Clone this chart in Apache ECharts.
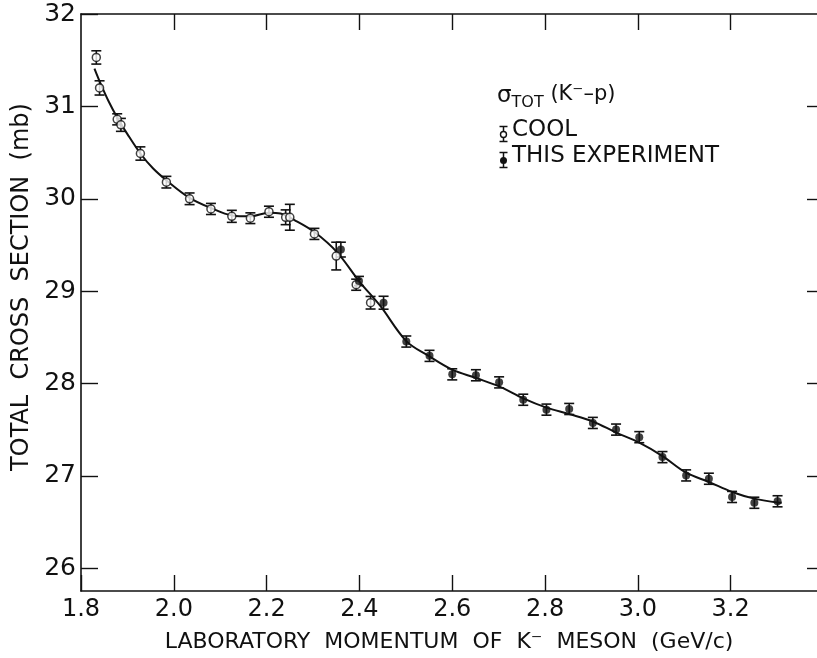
<!DOCTYPE html>
<html><head><meta charset="utf-8">
<script src="https://cdn.jsdelivr.net/npm/echarts@6/dist/echarts.min.js"></script>
<style>html,body{margin:0;padding:0;background:#fff}#c{width:817px;height:658px}</style>
</head><body><div id="c"></div>
<script>
// ---- data ----
const xTicks = [1.8, 2.0, 2.2, 2.4, 2.6, 2.8, 3.0, 3.2];
const yTicks = [26, 27, 28, 29, 30, 31, 32];
const coolX = [1.833, 1.840, 1.878, 1.886, 1.928, 1.984, 2.034, 2.080, 2.125, 2.165, 2.205, 2.241, 2.250, 2.303, 2.350, 2.393, 2.424];
const coolY = [31.53, 31.20, 30.86, 30.80, 30.49, 30.18, 30.00, 29.89, 29.81, 29.79, 29.86, 29.80, 29.80, 29.62, 29.38, 29.07, 28.875];
const coolErr = [0.072, 0.077, 0.06, 0.07, 0.072, 0.063, 0.063, 0.06, 0.065, 0.058, 0.06, 0.08, 0.14, 0.06, 0.15, 0.06, 0.068];
const expX = [2.360, 2.399, 2.452, 2.501, 2.551, 2.600, 2.651, 2.701, 2.753, 2.803, 2.852, 2.903, 2.953, 3.003, 3.053, 3.104, 3.153, 3.203, 3.251, 3.301];
const expY = [29.45, 29.11, 28.875, 28.455, 28.30, 28.10, 28.09, 28.013, 27.825, 27.718, 27.725, 27.574, 27.502, 27.42, 27.204, 27.006, 26.97, 26.773, 26.71, 26.726];
const expErr = [0.08, 0.05, 0.07, 0.06, 0.06, 0.06, 0.06, 0.06, 0.06, 0.06, 0.06, 0.06, 0.06, 0.06, 0.06, 0.06, 0.06, 0.06, 0.06, 0.06];
const fitX = [1.829, 1.842, 1.860, 1.878, 1.900, 1.928, 1.955, 1.984, 2.034, 2.080, 2.125, 2.165, 2.205, 2.230, 2.260, 2.303, 2.352, 2.399, 2.445, 2.501, 2.549, 2.600, 2.651, 2.701, 2.753, 2.803, 2.852, 2.903, 2.953, 3.003, 3.053, 3.104, 3.153, 3.203, 3.251, 3.301, 3.310];
const fitY = [31.41, 31.25, 31.05, 30.88, 30.70, 30.49, 30.33, 30.20, 30.01, 29.90, 29.82, 29.81, 29.85, 29.84, 29.77, 29.64, 29.42, 29.11, 28.84, 28.46, 28.30, 28.15, 28.06, 27.97, 27.84, 27.74, 27.67, 27.59, 27.47, 27.36, 27.215, 27.035, 26.935, 26.827, 26.755, 26.712, 26.71];
const xTitle = 'LABORATORY  MOMENTUM  OF  K\u207B  MESON  (GeV/c)';
const yTitle = 'TOTAL  CROSS  SECTION  (mb)';

const FONT = 'DejaVu Sans';
const INK = '#111';

function zip3(a, b, c) { return a.map((v, i) => [v, b[i], c[i]]); }
function zip2(a, b) { return a.map((v, i) => [v, b[i]]); }

function errRender(params, api) {
  const x = api.value(0), y = api.value(1), e = api.value(2);
  const t = api.coord([x, y + e]), b = api.coord([x, y - e]);
  const h = 5;
  const st = { stroke: INK, lineWidth: 1.6 };
  return { type: 'group', children: [
    { type: 'line', shape: { x1: t[0], y1: t[1], x2: b[0], y2: b[1] }, style: st },
    { type: 'line', shape: { x1: t[0] - h, y1: t[1], x2: t[0] + h, y2: t[1] }, style: st },
    { type: 'line', shape: { x1: b[0] - h, y1: b[1], x2: b[0] + h, y2: b[1] }, style: st }
  ]};
}

const chart = echarts.init(document.getElementById('c'), null, { renderer: 'canvas' });
const axisLine = { show: true, lineStyle: { color: INK, width: 1.6 } };
chart.setOption({
  animation: false,
  backgroundColor: '#fff',
  grid: { left: 81, top: 14, right: 0, bottom: 65 },
  xAxis: [
    { type: 'value', min: 1.8, max: 3.386, position: 'bottom',
      axisLine, splitLine: { show: false },
      axisTick: { show: true, inside: true, length: 16, customValues: xTicks, lineStyle: { color: INK, width: 1.4 } },
      axisLabel: { customValues: xTicks, formatter: v => v.toFixed(1), fontFamily: FONT, fontSize: 24, color: INK, margin: 7 },
      name: xTitle, nameLocation: 'middle', nameGap: 40,
      nameTextStyle: { fontFamily: FONT, fontSize: 22, color: INK }
    },
    { type: 'value', min: 1.8, max: 3.386, position: 'top',
      axisLine, splitLine: { show: false },
      axisTick: { show: true, inside: true, length: 16, customValues: xTicks.slice(1), lineStyle: { color: INK, width: 1.4 } },
      axisLabel: { show: false }
    }
  ],
  yAxis: [
    { type: 'value', min: 25.755, max: 32, position: 'left',
      axisLine, splitLine: { show: false },
      axisTick: { show: true, inside: true, length: 17, customValues: yTicks, lineStyle: { color: INK, width: 1.4 } },
      axisLabel: { customValues: yTicks, fontFamily: FONT, fontSize: 25, color: INK, margin: 5 }
    },
    { type: 'value', min: 25.755, max: 32, position: 'right',
      axisLine: { show: false }, splitLine: { show: false },
      axisTick: { show: true, inside: true, length: 10, customValues: yTicks.slice(0, 6), lineStyle: { color: INK, width: 1.4 } },
      axisLabel: { show: false }
    }
  ],
  series: [
    { type: 'line', data: zip2(fitX, fitY), smooth: 0.35, showSymbol: false, symbol: 'none',
      lineStyle: { color: INK, width: 2 }, z: 2 },
    { type: 'custom', data: zip3(coolX, coolY, coolErr), renderItem: errRender, z: 3 },
    { type: 'custom', data: zip3(expX, expY, expErr), renderItem: errRender, z: 3 },
    { type: 'scatter', data: zip2(coolX, coolY), symbol: 'circle', symbolSize: 8,
      itemStyle: { color: '#fff', borderColor: INK, borderWidth: 1.5 }, z: 5 },
    { type: 'scatter', data: zip2(expX, expY), symbol: 'circle', symbolSize: 8,
      itemStyle: { color: INK }, z: 5 }
  ],
  graphic: [
    { type: 'text', x: 22, y: 287, rotation: Math.PI / 2, style: {
        text: yTitle, fontFamily: FONT, fontSize: 24, fill: INK, align: 'center', verticalAlign: 'middle' } },
    { type: 'text', left: 497, top: 84, style: {
        text: '{s|\u03C3}{sub|TOT}  {t|(K\u207B\u2013p)}',
        rich: {
          s: { fontFamily: FONT, fontSize: 23, fill: INK },
          sub: { fontFamily: FONT, fontSize: 16, fill: INK, padding: [12, 0, 0, 0] },
          t: { fontFamily: FONT, fontSize: 21, fill: INK, padding: [0, 0, 4, 0] }
        } } },
    { type: 'group', left: 497, top: 124, children: [
      { type: 'line', shape: { x1: 5, y1: 0, x2: 5, y2: 15 }, style: { stroke: INK, lineWidth: 1.5 } },
      { type: 'line', shape: { x1: 1, y1: 0, x2: 9, y2: 0 }, style: { stroke: INK, lineWidth: 1.5 } },
      { type: 'line', shape: { x1: 1, y1: 15, x2: 9, y2: 15 }, style: { stroke: INK, lineWidth: 1.5 } },
      { type: 'circle', shape: { cx: 5, cy: 8, r: 3 }, style: { fill: '#fff', stroke: INK, lineWidth: 1.4 } }
    ] },
    { type: 'text', left: 512, top: 119, style: { text: 'COOL', fontFamily: FONT, fontSize: 23, fill: INK } },
    { type: 'group', left: 497, top: 150, children: [
      { type: 'line', shape: { x1: 5, y1: 0, x2: 5, y2: 15 }, style: { stroke: INK, lineWidth: 1.5 } },
      { type: 'line', shape: { x1: 1, y1: 0, x2: 9, y2: 0 }, style: { stroke: INK, lineWidth: 1.5 } },
      { type: 'line', shape: { x1: 1, y1: 15, x2: 9, y2: 15 }, style: { stroke: INK, lineWidth: 1.5 } },
      { type: 'circle', shape: { cx: 5, cy: 8, r: 3.5 }, style: { fill: INK } }
    ] },
    { type: 'text', left: 512, top: 145, style: { text: 'THIS EXPERIMENT', fontFamily: FONT, fontSize: 23, fill: INK } }
  ]
});
</script>
</body></html>
